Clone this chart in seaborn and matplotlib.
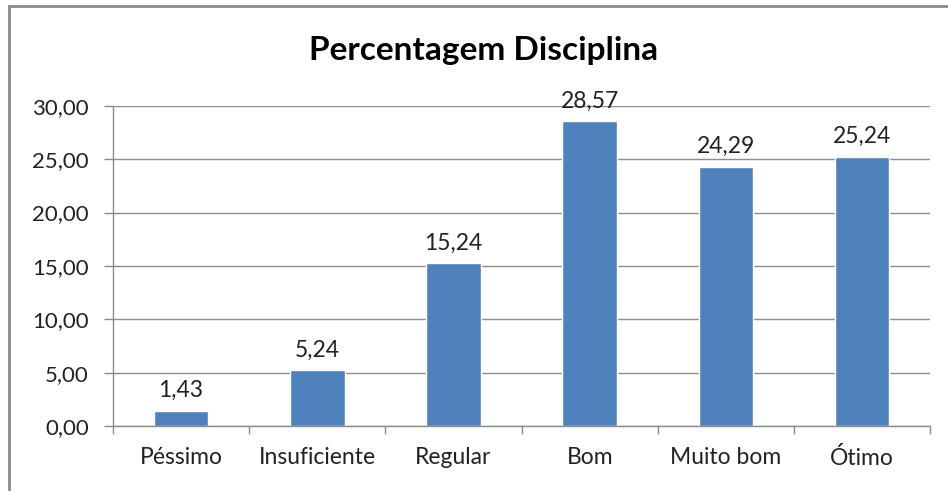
import matplotlib
matplotlib.use("Agg")
import matplotlib.pyplot as plt
from matplotlib.patches import Rectangle
from matplotlib.ticker import FixedLocator, FuncFormatter
import seaborn as sns
import pandas as pd

categorias = ['Péssimo', 'Insuficiente', 'Regular', 'Bom', 'Muito bom', 'Ótimo']
percentuais = [1.43, 5.24, 15.24, 28.57, 24.29, 25.24]
y_ticks = [0, 5, 10, 15, 20, 25, 30]

df = pd.DataFrame({'categoria': categorias, 'pct': percentuais})

sns.set_style('white')
plt.rcParams['font.family'] = ['Lato', 'DejaVu Sans']

fig = plt.figure(figsize=(9.48, 4.91), dpi=100)
ax = fig.add_axes([0.1192, 0.1324, 0.862, 0.652])

sns.barplot(data=df, x='categoria', y='pct', color='#4F81BD', saturation=1,
            width=0.4, ax=ax)

ax.set_ylim(0, 30)
ax.set_xlim(-0.5, len(categorias) - 0.5)
ax.yaxis.set_major_locator(FixedLocator(y_ticks))
ax.yaxis.set_major_formatter(FuncFormatter(lambda v, p: f'{v:.2f}'.replace('.', ',')))
ax.grid(axis='y', color='#8c8c8c', linewidth=1)
ax.set_axisbelow(True)
ax.set_xlabel('')
ax.set_ylabel('')

for s in ['top', 'right']:
    ax.spines[s].set_visible(False)
for s in ['left', 'bottom']:
    ax.spines[s].set_color('#8c8c8c')
    ax.spines[s].set_linewidth(1)

# ticks x nas divisoes das categorias
ax.set_xticks([i - 0.5 for i in range(len(categorias) + 1)], minor=True)
ax.tick_params(axis='x', which='minor', direction='out', length=6, color='#8c8c8c', width=1)
ax.tick_params(axis='x', which='major', length=0, pad=15, labelsize=16.5, labelcolor='#222222')
ax.tick_params(axis='y', direction='out', length=6.5, color='#8c8c8c', width=1, pad=11,
               labelsize=16, labelcolor='#222222')
ax.tick_params(left=True, bottom=True, which='both')

for p, v in zip(ax.patches, percentuais):
    ax.annotate(f'{v:.2f}'.replace('.', ','), (p.get_x() + p.get_width() / 2, p.get_height()),
                xytext=(0, 7), textcoords='offset points', ha='center', va='bottom',
                fontsize=16.5, color='#222222')

fig.text(0.51, 0.898, 'Percentagem Disciplina', ha='center', va='center',
         fontsize=24, fontweight='bold', color='black')

fig.add_artist(Rectangle((9 / 948, -0.5), 2, 0.988 + 0.5, transform=fig.transFigure,
                         fill=False, edgecolor='#8a8a8a', linewidth=2))

fig.savefig('out.png', dpi=100)
